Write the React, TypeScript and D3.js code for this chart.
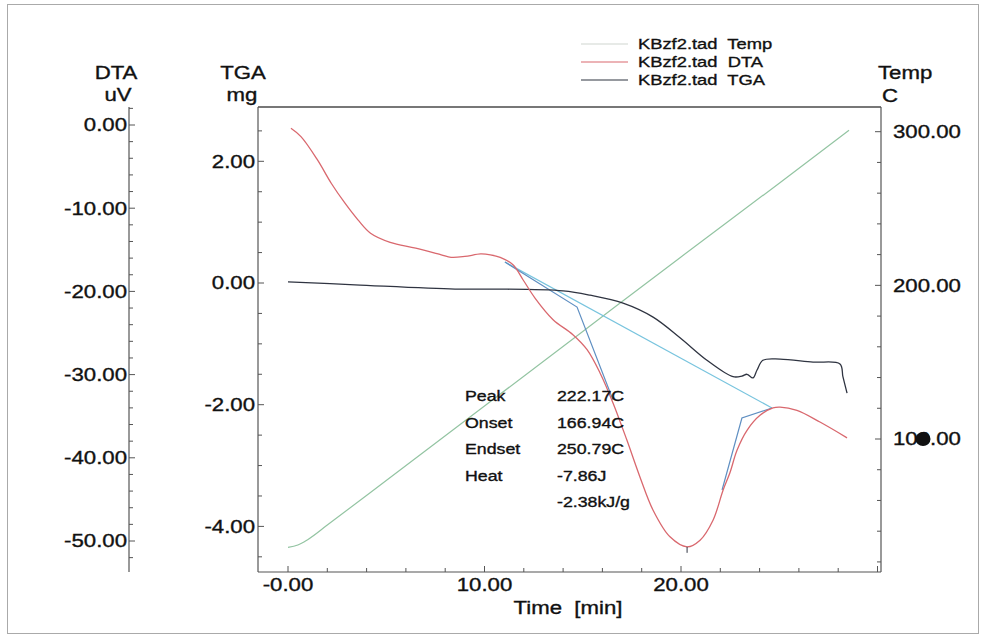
import React from "react";
import * as d3 from "d3";

// ---- Data ----
const tempTime = [0, 0.5, 1, 2, 5, 10, 15, 20, 25, 28.55];
const tempValue = [29.5, 31, 34.5, 44, 73, 121.5, 170, 218.5, 266.5, 301];

const dtaTime = [0.15, 0.66, 1.5, 2.2, 2.9, 3.56, 4.2, 5.2, 6.5, 7.8, 8.3, 9.0, 9.8, 10.3, 10.8, 11.45, 11.96, 12.57, 13.49, 14.5, 15.22, 15.88, 16.54, 17.25, 17.91, 18.58, 19.44, 20.31, 20.97, 21.63, 22.14, 22.49, 22.85, 23.36, 24.02, 24.68, 25.04, 25.9, 27.07, 28.45];
const dtaValue = [-0.4, -1.4, -4.2, -7.0, -9.4, -11.4, -13.0, -14.1, -14.8, -15.6, -15.9, -15.8, -15.5, -15.6, -15.9, -16.8, -18.6, -20.8, -23.4, -25.2, -27.0, -29.8, -33.4, -37.9, -42.3, -46.3, -49.5, -50.7, -49.9, -47.5, -43.9, -41.8, -39.1, -36.7, -34.9, -34.0, -33.9, -34.3, -35.7, -37.6];

const tgaTime = [0, 3.41, 8.5, 10.53, 14.0, 15.37, 17.05, 18.58, 19.95, 21.32, 22.65, 23.1, 23.36, 23.66, 23.87, 24.17, 25.04, 26.72, 28.09, 28.24, 28.45];
const tgaValue = [0.02, -0.03, -0.1, -0.1, -0.13, -0.2, -0.33, -0.56, -0.9, -1.27, -1.54, -1.53, -1.5, -1.56, -1.43, -1.27, -1.25, -1.3, -1.33, -1.54, -1.81];

// DTA analysis construction lines (time, DTA uV)
const baselineTime = [11.04, 24.63];
const baselineValue = [-16.47, -34.01];
const onsetTime = [11.04, 14.71, 16.54];
const onsetValue = [-16.47, -21.88, -33.05];
const endsetTime = [22.09, 23.1, 24.63];
const endsetValue = [-43.87, -35.22, -34.01];
const peakTime = 20.31;
const peakValue = -50.7;

const xMajor = [0, 10, 20];
const xTickLabels = ["-0.00", "10.00", "20.00"];
const dtaMajor = [0, -10, -20, -30, -40, -50];
const dtaTickLabels = ["0.00", "-10.00", "-20.00", "-30.00", "-40.00", "-50.00"];
const tgaMajor = [2, 0, -2, -4];
const tgaTickLabels = ["2.00", "0.00", "-2.00", "-4.00"];
const tempMajor = [300, 200, 100];
const tempTickLabels = ["300.00", "200.00", "100.00"];

const legendLabels = ["KBzf2.tad  Temp", "KBzf2.tad  DTA", "KBzf2.tad  TGA"];
const resultLabels = ["Peak", "Onset", "Endset", "Heat", ""];
const resultValues = ["222.17C", "166.94C", "250.79C", "-7.86J", "-2.38kJ/g"];

// ---- Styling ----
const FONT = "'Liberation Sans', Arial, sans-serif";
const C_TEMP = "#93c4a2";
const C_DTA = "#d9686e";
const C_TGA = "#2f3441";
const C_BASE = "#78c4de";
const C_TAN = "#5f8fc2";
const C_AXIS = "#555";
const SX = 1.2;

const W = 982;
const H = 639;
const L = 258, R = 881, TOP = 107, BOT = 572;

function T({ x, y, anchor = "start", size = 18.5, children, dy }: any) {
  return (
    <text
      transform={`translate(${x},${y}) scale(${SX},1)`}
      textAnchor={anchor}
      fontSize={size}
      fontFamily={FONT}
      fill="#111"
      stroke="#111"
      strokeWidth={0.35}
      dy={dy}
      style={{ whiteSpace: "pre" }}
    >
      {children}
    </text>
  );
}

export default function App() {
  const x = d3.scaleLinear().domain([0, 20]).range([288, 681]);
  const yDTA = d3.scaleLinear().domain([0, -50]).range([125, 541]);
  const yTGA = d3.scaleLinear().domain([0, -4]).range([283, 526.4]);
  const yTemp = d3.scaleLinear().domain([100, 300]).range([439, 131.7]);

  const mk = (ts: number[], vs: number[], ys: any, curve: any) =>
    d3
      .line<number>()
      .x((_, i) => x(ts[i]))
      .y((_, i) => ys(vs[i]))
      .curve(curve)(ts) as string;

  const tempPath = mk(tempTime, tempValue, yTemp, d3.curveMonotoneX);
  const dtaPath = mk(dtaTime, dtaValue, yDTA, d3.curveCatmullRom.alpha(0.5));
  const tgaPath = mk(tgaTime, tgaValue, yTGA, d3.curveCatmullRom.alpha(0.5));
  const basePath = mk(baselineTime, baselineValue, yDTA, d3.curveLinear);
  const onsetPath = mk(onsetTime, onsetValue, yDTA, d3.curveLinear);
  const endsetPath = mk(endsetTime, endsetValue, yDTA, d3.curveLinear);

  const xTicks = d3.range(0, 31, 2);
  const dtaTicks = d3.range(2, -53, -2);
  const tgaTicks = d3.range(2.5, -4.75, -0.5);
  const tempTicks = d3.range(20, 301, 20);
  const dtaAxisX = 129;

  return (
    <svg
      width={W}
      height={H}
      style={{ position: "absolute", left: 0, top: 0, background: "#fff" }}
    >
      <rect x={0} y={0} width={W} height={H} fill="#fff" />
      <rect x={7.5} y={4.5} width={971} height={629} fill="none" stroke="#aaa" strokeWidth={1} />

      {/* legend */}
      {legendLabels.map((lab, i) => (
        <g key={lab}>
          <line
            x1={581}
            x2={628}
            y1={44 + i * 18}
            y2={44 + i * 18}
            stroke={["#cfd6d0", C_DTA, C_TGA][i]}
            strokeWidth={1.2}
          />
          <T x={638} y={49 + i * 18} size={15.3}>{lab}</T>
        </g>
      ))}

      {/* axis titles */}
      <T x={116} y={79} anchor="middle">DTA</T>
      <T x={118} y={101} anchor="middle">uV</T>
      <T x={243} y={79} anchor="middle">TGA</T>
      <T x={242} y={101} anchor="middle">mg</T>
      <T x={878} y={79}>Temp</T>
      <T x={882} y={102}>C</T>

      {/* frame */}
      <line x1={L} x2={R} y1={TOP} y2={TOP} stroke="#777" strokeWidth={1.8} />
      <line x1={R} x2={R} y1={TOP} y2={BOT} stroke={C_AXIS} strokeWidth={1.2} />
      <line x1={L} x2={L} y1={TOP} y2={BOT} stroke={C_AXIS} strokeWidth={1.2} />
      <line x1={L} x2={R} y1={BOT} y2={BOT} stroke={C_AXIS} strokeWidth={1.2} />

      {/* DTA axis */}
      <line x1={dtaAxisX} x2={dtaAxisX} y1={TOP} y2={BOT} stroke={C_AXIS} strokeWidth={1.2} />
      {dtaTicks.map((v) => (
        <line
          key={"d" + v}
          x1={dtaAxisX}
          x2={dtaAxisX + (v % 10 === 0 ? 6 : 4)}
          y1={yDTA(v)}
          y2={yDTA(v)}
          stroke={C_AXIS}
          strokeWidth={1}
        />
      ))}
      {dtaMajor.map((v, i) => (
        <T key={"dl" + v} x={127} y={yDTA(v)} anchor="end" dy="0.35em">{dtaTickLabels[i]}</T>
      ))}

      {/* TGA axis */}
      {tgaTicks.map((v) => (
        <line
          key={"g" + v}
          x1={L}
          x2={L + (Math.abs(v % 2) < 1e-9 ? 6 : 4)}
          y1={yTGA(v)}
          y2={yTGA(v)}
          stroke={C_AXIS}
          strokeWidth={1}
        />
      ))}
      {tgaMajor.map((v, i) => (
        <T key={"gl" + v} x={255} y={yTGA(v)} anchor="end" dy="0.35em">{tgaTickLabels[i]}</T>
      ))}

      {/* Temp axis */}
      {tempTicks.map((v) => (
        <line
          key={"t" + v}
          x1={R}
          x2={R - (v % 100 === 0 ? 6 : 4)}
          y1={yTemp(v)}
          y2={yTemp(v)}
          stroke={C_AXIS}
          strokeWidth={1}
        />
      ))}
      {tempMajor.map((v, i) => (
        <T key={"tl" + v} x={893} y={yTemp(v)} dy="0.35em">{tempTickLabels[i]}</T>
      ))}
      <ellipse cx={923} cy={yTemp(100)} rx={7.5} ry={7} fill="#111" />

      {/* time axis */}
      {xTicks.map((v) => (
        <line
          key={"x" + v}
          x1={x(v)}
          x2={x(v)}
          y1={BOT}
          y2={BOT - (v % 10 === 0 ? 6 : 4)}
          stroke={C_AXIS}
          strokeWidth={1}
        />
      ))}
      {xMajor.map((v, i) => (
        <T key={"xl" + v} x={x(v)} y={591} anchor="middle">{xTickLabels[i]}</T>
      ))}
      <T x={568} y={614} anchor="middle" size={18.5}>Time  [min]</T>

      {/* curves */}
      <path d={tempPath} fill="none" stroke={C_TEMP} strokeWidth={1.2} />
      <path d={basePath} fill="none" stroke={C_BASE} strokeWidth={1.2} />
      <path d={onsetPath} fill="none" stroke={C_TAN} strokeWidth={1.2} />
      <path d={endsetPath} fill="none" stroke={C_TAN} strokeWidth={1.2} />
      <path d={tgaPath} fill="none" stroke={C_TGA} strokeWidth={1.3} />
      <path d={dtaPath} fill="none" stroke={C_DTA} strokeWidth={1.3} />
      <line
        x1={x(peakTime)}
        x2={x(peakTime)}
        y1={yDTA(peakValue)}
        y2={yDTA(peakValue) + 6}
        stroke={C_TGA}
        strokeWidth={1}
      />

      {/* results */}
      {resultValues.map((val, i) => (
        <g key={"r" + i}>
          {resultLabels[i] && <T x={465} y={401 + i * 26.5} size={14.8}>{resultLabels[i]}</T>}
          <T x={557} y={401 + i * 26.5} size={14.8}>{val}</T>
        </g>
      ))}
    </svg>
  );
}
